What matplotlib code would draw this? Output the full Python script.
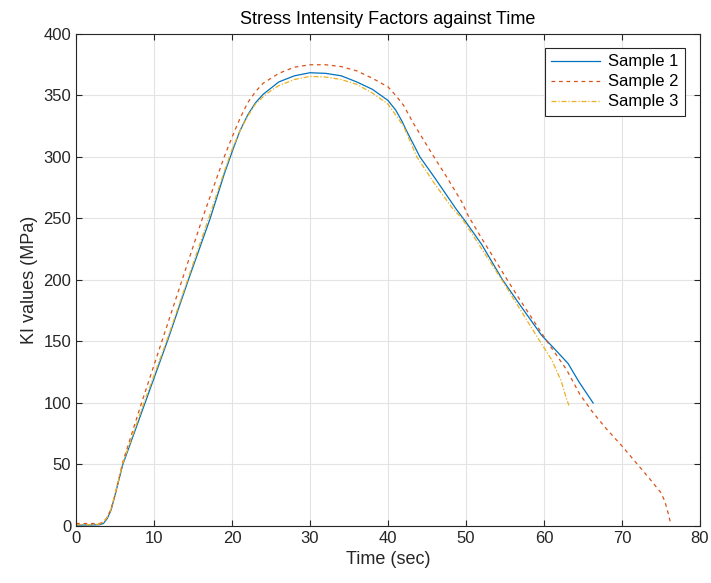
import numpy as np
import matplotlib
matplotlib.use('Agg')
import matplotlib.pyplot as plt

plt.rcParams['font.family'] = ['Liberation Sans', 'DejaVu Sans']

# Sample 1 (solid blue)
t1 = [0, 1, 2, 3, 3.5, 4, 4.5, 5, 6, 8.85, 11.7, 14.4, 17.2, 19, 20, 21, 22,
      23, 24, 25, 26, 28, 30, 32, 34, 36, 38, 40, 41, 41.8, 42.4, 44.1, 46,
      48.7, 50, 52, 54.7, 57, 59.7, 61.5, 63.1, 64.5, 66.3]
k1 = [0.5, 0.8, 0.8, 1, 2, 6, 13, 25, 50, 100, 150, 200, 250, 286, 304, 321,
      334, 344, 351, 356, 361, 366, 368.5, 368, 366, 361, 355, 346, 338, 329,
      321, 300, 283, 258, 247, 229, 200, 179, 155, 143, 132, 117, 100]

# Sample 2 (dashed orange)
t2 = [0, 1, 2, 3, 3.5, 4, 4.5, 5, 6, 8.4, 11.0, 13.6, 16.2, 19, 20, 21, 22,
      23, 24, 26, 28, 30, 32, 34, 36, 38, 40, 41, 42, 43.2, 45.8, 47.5, 49.5,
      50.3, 52, 55.3, 56.8, 60.4, 62.9, 64.6, 66.3, 68, 70, 72, 73.6, 75,
      75.5, 75.9, 76.2]
k2 = [2, 2, 2, 2, 3, 7, 14, 25, 52, 100, 150, 200, 250, 300, 316, 331, 344,
      353, 360, 368, 373, 375, 375, 373.5, 370, 364, 357, 350, 342, 328, 301,
      284, 263, 252, 234, 200, 185, 150, 127, 107, 92, 79, 65, 50, 38, 27, 20,
      11, 3]

# Sample 3 (dash-dot yellow)
t3 = [0, 1, 2, 3, 3.5, 4, 4.5, 5, 6, 8.7, 11.6, 14.3, 17.0, 19, 20, 21, 22,
      23, 24, 25, 26, 28, 30, 32, 34, 36, 38, 40, 42, 43.7, 46, 48.3, 49.5,
      54.6, 59.5, 61, 62.2, 62.9, 63.2]
k3 = [1, 1, 1, 1.5, 3, 7, 14, 26, 51, 100, 150, 200, 250, 288, 306, 321, 333,
      343, 349, 354, 358, 363, 365.5, 365, 363, 359, 352, 343, 325, 300, 278,
      258, 250, 200, 150, 135, 118, 103, 98]

dark = '#262626'
fig = plt.figure(figsize=(7.11, 5.83), dpi=100)
ax = fig.add_axes([0.1069, 0.0978, 0.8776, 0.8439])

ax.plot(t1, k1, color='#0072BD', lw=0.9, label='Sample 1')
ax.plot(t2, k2, color='#D95319', lw=0.9, ls=(0, (3, 3)), label='Sample 2')
ax.plot(t3, k3, color='#EDB120', lw=0.9, ls=(0, (4, 1.5, 1, 1.5)), label='Sample 3')

ax.set_xlim(0, 80)
ax.set_ylim(0, 400)
ax.set_xticks(np.arange(0, 81, 10))
ax.set_yticks(np.arange(0, 401, 50))
ax.grid(True, color='#e3e3e3', lw=0.8)
ax.set_axisbelow(True)
ax.tick_params(direction='in', length=4, colors=dark, labelsize=12,
               top=True, right=True, labeltop=False, labelright=False)
for s in ax.spines.values():
    s.set_color(dark)
    s.set_linewidth(0.8)

ax.set_xlabel('Time (sec)', fontsize=13, color=dark)
ax.set_ylabel('KI values (MPa)', fontsize=13, color=dark)
ax.set_title('Stress Intensity Factors against Time', fontsize=13, color='black', pad=7)

leg = ax.legend(loc='upper right', fontsize=12, fancybox=False, framealpha=1,
                edgecolor=dark, handlelength=2.9, borderpad=0.4, labelspacing=0.3,
                handletextpad=0.5, borderaxespad=0,
                bbox_to_anchor=(0.976, 0.972))
leg.get_frame().set_linewidth(0.8)

fig.savefig('out.png', dpi=100)
